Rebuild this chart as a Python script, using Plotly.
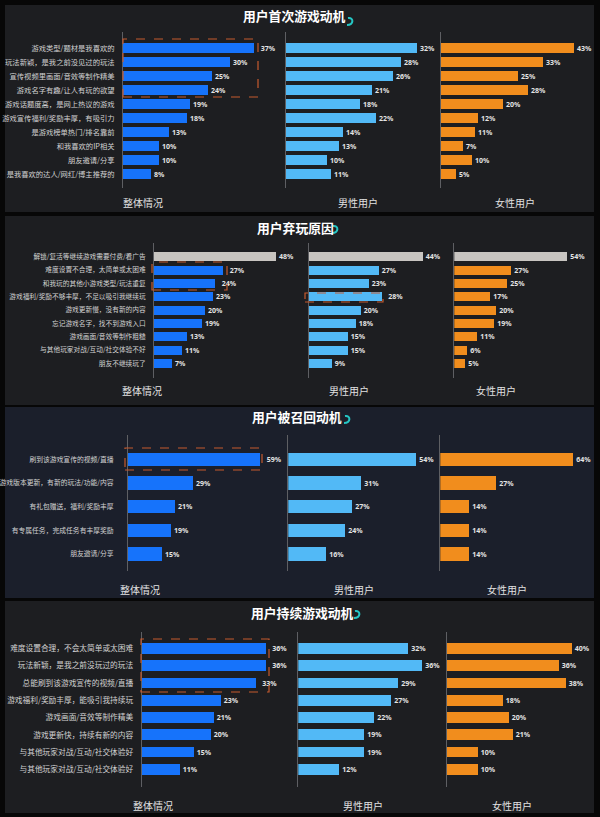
import plotly.graph_objects as go

W, H = 600, 817


def fx(p):
    return p / W


def fy(p):
    return 1 - p / H


# ---------------- DATA ----------------
titles = ["用户首次游戏动机", "用户弃玩原因", "用户被召回动机", "用户持续游戏动机"]
groups = ["整体情况", "男性用户", "女性用户"]

p1_labels = ["游戏类型/题材是我喜欢的", "玩法新颖，是我之前没见过的玩法", "宣传视频里画面/音效等制作精美",
             "游戏名字有趣/让人有玩的欲望", "游戏话题度高，是网上热议的游戏", "游戏宣传福利/奖励丰厚，有吸引力",
             "是游戏榜单热门/排名靠前", "和我喜欢的IP相关", "朋友邀请/分享", "是我喜欢的达人/网红/博主推荐的"]
p1_overall = [37, 30, 25, 24, 19, 18, 13, 10, 10, 8]
p1_male = [32, 28, 26, 21, 18, 22, 14, 13, 10, 11]
p1_female = [43, 33, 25, 28, 20, 12, 11, 7, 10, 5]

p2_labels = ["解锁/复活等继续游戏需要付费/看广告", "难度设置不合理，太简单或太困难", "和我玩的其他小游戏类型/玩法重复",
             "游戏福利/奖励不够丰厚，不足以吸引我继续玩", "游戏更新慢，没有新的内容", "忘记游戏名字，找不到游戏入口",
             "游戏画面/音效等制作粗糙", "与其他玩家对战/互动/社交体验不好", "朋友不继续玩了"]
p2_overall = [48, 27, 24, 23, 20, 19, 13, 11, 7]
p2_male = [44, 27, 23, 28, 20, 18, 15, 15, 9]
p2_female = [54, 27, 25, 17, 20, 19, 11, 6, 5]

p3_labels = ["刷到该游戏宣传的视频/直播", "游戏版本更新，有新的玩法/功能/内容", "有礼包赠送，福利/奖励丰厚",
             "有专属任务，完成任务有丰厚奖励", "朋友邀请/分享"]
p3_overall = [59, 29, 21, 19, 15]
p3_male = [54, 31, 27, 24, 16]
p3_female = [64, 27, 14, 14, 14]

p4_labels = ["难度设置合理，不会太简单或太困难", "玩法新颖，是我之前没玩过的玩法", "总能刷到该游戏宣传的视频/直播",
             "游戏福利/奖励丰厚，能吸引我持续玩", "游戏画面/音效等制作精美", "游戏更新快，持续有新的内容",
             "与其他玩家对战/互动/社交体验好", "与其他玩家对战/互动/社交体验好"]
p4_overall = [36, 36, 33, 23, 21, 20, 15, 11]
p4_male = [32, 36, 29, 27, 22, 19, 19, 12]
p4_female = [40, 36, 38, 18, 20, 21, 10, 10]

# ---------------- STYLE / LAYOUT CONFIG ----------------
C_BLUE = "#1673fb"
C_LIGHT = "#52b9f6"
C_ORANGE = "#f18d1d"
C_GRAY = "#c8c5c1"
BG_OUT = "#070707"
PANEL_BG = ["#1d1e21", "#1d1e21", "#1b1f2b", "#1d1e21"]
CJK = "Noto Sans CJK SC"

panels = [
    dict(labels=p1_labels, vals=[p1_overall, p1_male, p1_female], box=(5, 5, 594, 212),
         first=48, step=14, top=32, bot=188, bar=9.5, font=7.3, standoff=6,
         cols=[(123, 3.55, 278), (286, 4.1, 434), (441, 3.09, 590)],
         padded=[[0], [], []],
         title_xy=(294, 16), swirl=(348, 18), sub_y=203, sub_x=[143, 358, 515], gray_first=False),
    dict(labels=p2_labels, vals=[p2_overall, p2_male, p2_female], box=(5, 216, 594, 405),
         first=256.7, step=13.33, top=243, bot=378, bar=9, font=6.7, standoff=6,
         cols=[(154, 2.55, 300), (308.7, 2.6, 447), (454.3, 2.1, 590)],
         padded=[[1, 2], [3], []],
         title_xy=(295, 227), swirl=(333, 226), sub_y=391, sub_x=[142, 349, 496], gray_first=True),
    dict(labels=p3_labels, vals=[p3_overall, p3_male, p3_female], box=(5, 407, 594, 598),
         first=459.3, step=23.7, top=435, bot=571, bar=13.3, font=6.8, standoff=12,
         cols=[(128, 2.24, 280), (288.3, 2.37, 432), (440.3, 2.08, 590)],
         padded=[[0], [], []],
         title_xy=(297, 417), swirl=(345, 416), sub_y=589, sub_x=[140, 354, 507], gray_first=False),
    dict(labels=p4_labels, vals=[p4_overall, p4_male, p4_female], box=(5, 601, 594, 813),
         first=648.3, step=17.3, top=632, bot=787, bar=10.7, font=7.7, standoff=6,
         cols=[(141.7, 3.44, 290), (298.3, 3.45, 440), (446.7, 3.12, 590)],
         padded=[[0, 1, 2], [], []],
         title_xy=(302, 612), swirl=(355, 611), sub_y=805, sub_x=[153, 363, 512], gray_first=False),
]

# dashed highlight boxes (pixel rectangles)
highlight_boxes = [(123, 39, 258, 97), (152, 262, 227, 290), (305, 293, 383, 302),
                   (125, 448, 262, 470), (141, 639, 269, 692)]

fig = go.Figure()
layout = {}
shapes = []
annotations = []

k = 0
for pi, p in enumerate(panels):
    x0b, y0b, x1b, y1b = p["box"]
    shapes.append(dict(type="rect", xref="paper", yref="paper", x0=fx(x0b), x1=fx(x1b), y0=fy(y1b), y1=fy(y0b),
                       fillcolor=PANEL_BG[pi], line=dict(width=0), layer="below"))
    n = len(p["labels"])
    top_val = -(p["first"] - p["top"]) / p["step"]
    bot_val = (p["bot"] - p["first"]) / p["step"]
    for ci, (ax0, scale, ax1) in enumerate(p["cols"]):
        k += 1
        sfx = "" if k == 1 else str(k)
        vals = p["vals"][ci]
        base_color = [C_BLUE, C_LIGHT, C_ORANGE][ci]
        colors = [base_color] * n
        if p["gray_first"]:
            colors[0] = C_GRAY
        texts = [("\u00a0\u00a0" if i in p["padded"][ci] else "") + f"{v}%" for i, v in enumerate(vals)]
        fig.add_trace(go.Bar(
            x=vals, y=list(range(n)), orientation="h",
            xaxis="x" + sfx, yaxis="y" + sfx,
            marker=dict(color=colors, line=dict(width=0)),
            width=p["bar"] / p["step"],
            text=texts, textposition="outside",
            textfont=dict(size=7, color="#e4e4e4", family="Noto Sans", weight="bold"),
            cliponaxis=False, constraintext="none", hoverinfo="skip", showlegend=False,
        ))
        R = (ax1 - ax0) / scale
        layout["xaxis" + sfx] = dict(domain=[fx(ax0), fx(ax1)], range=[0, R], visible=False,
                                     anchor="y" + sfx, fixedrange=True)
        ydict = dict(domain=[fy(p["bot"]), fy(p["top"])], range=[bot_val, top_val],
                     anchor="x" + sfx, showline=True, linecolor="#5e5f63", linewidth=1,
                     showgrid=False, zeroline=False, ticks="", fixedrange=True,
                     tickvals=list(range(n)))
        if ci == 0:
            ydict.update(ticktext=p["labels"], showticklabels=True,
                         tickfont=dict(size=p["font"], color="#d2d2d2", family=CJK),
                         ticklabelstandoff=p["standoff"])
        else:
            ydict.update(showticklabels=False)
        layout["yaxis" + sfx] = ydict
        annotations.append(dict(text=groups[ci], xref="paper", yref="paper", x=fx(p["sub_x"][ci]),
                                y=fy(p["sub_y"]), showarrow=False, xanchor="center", yanchor="middle",
                                font=dict(size=10, color="#e2e2e2", family=CJK)))
    tx, ty = p["title_xy"]
    annotations.append(dict(text="<b>" + titles[pi] + "</b>", xref="paper", yref="paper",
                            x=fx(tx), y=fy(ty), showarrow=False, xanchor="center", yanchor="middle",
                            font=dict(size=12.8, color="#ffffff", family=CJK)))
    sx, sy = p["swirl"]
    path = (f"M {fx(sx)},{fy(sy)} C {fx(sx + 6)},{fy(sy - 1)} {fx(sx + 6)},{fy(sy + 7)} {fx(sx - 1)},{fy(sy + 7)}")
    shapes.append(dict(type="path", xref="paper", yref="paper", path=path,
                       line=dict(color="#25c6c4", width=2)))

for (bx0, by0, bx1, by1) in highlight_boxes:
    shapes.append(dict(type="rect", xref="paper", yref="paper", x0=fx(bx0), x1=fx(bx1), y0=fy(by1), y1=fy(by0),
                       line=dict(color="#c65a2e", width=1.2, dash="dash"), fillcolor="rgba(0,0,0,0)"))

fig.update_layout(
    width=W, height=H, margin=dict(l=0, r=0, t=0, b=0),
    paper_bgcolor=BG_OUT, plot_bgcolor="rgba(0,0,0,0)",
    shapes=shapes, annotations=annotations, bargap=0,
    font=dict(family=CJK),
    **layout,
)

fig.write_html("out.html",
               config={"displayModeBar": False},
               post_script="document.body.style.margin='0';document.body.style.padding='0';"
                           "document.body.style.overflow='hidden';"
                           "document.documentElement.style.overflow='hidden';")
